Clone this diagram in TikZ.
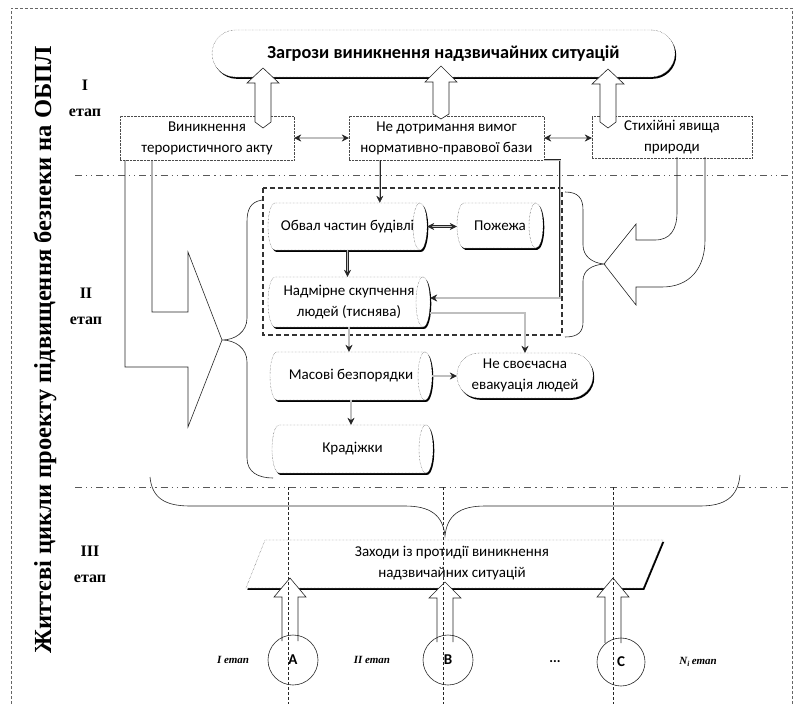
\documentclass[tikz,border=0pt]{standalone}
\usepackage{fontspec}
\setmainfont{Carlito}
\newfontfamily\serifbf{Liberation Serif}
\usetikzlibrary{arrows.meta,shadows,calc}

\newcommand\cyl[6]{%
 \pgfmathsetmacro\cyh{(#5-#3)/2}%
 \fill[black] (#2+7+1.3,#3+1.8) -- (#4-7+1.3,#3+1.8) arc[start angle=-90,end angle=90,x radius=7,y radius=\cyh] -- (#2+7+1.3,#5+1.8) arc[start angle=90,end angle=270,x radius=7,y radius=\cyh] -- cycle;
 \filldraw[fill=white,draw=black!80,densely dotted] (#2+7,#3) -- (#4-7,#3) arc[start angle=-90,end angle=90,x radius=7,y radius=\cyh] -- (#2+7,#5) arc[start angle=90,end angle=270,x radius=7,y radius=\cyh] -- cycle;
 \draw[black!80,densely dotted] (#4-7,#3) arc[start angle=-90,end angle=-270,x radius=7,y radius=\cyh];
 \node[lbl, minimum width={#4-#2}, minimum height={#5-#3}] (#1) at ({(#2+#4)/2},{(#3+#5)/2}) {#6};
}

\begin{document}
\begin{tikzpicture}[x=1pt,y=-1pt,
 lbl/.style={font=\fontsize{15}{21}\selectfont, align=center, inner sep=1pt},
 rbox/.style={lbl, draw=black!70, densely dotted, thin},
 pill/.style={lbl, draw=black!80, densely dotted, fill=white, drop shadow={shadow xshift=1.2pt, shadow yshift=-1.8pt, fill=black, opacity=1}},
 stage/.style={font=\serifbf\bfseries\fontsize{16}{26}\selectfont, align=center},
 smalllbl/.style={font=\serifbf\bfseries\itshape\fontsize{11}{13}\selectfont},
 conn/.style={draw=black!85, line width=0.4pt, double=black!25, double distance=1.3pt, -{Stealth[length=7pt,width=7pt]}},
 dconn/.style={draw=black!85, line width=0.4pt, double=black!25, double distance=1.3pt, {Stealth[length=7pt,width=7pt]}-{Stealth[length=7pt,width=7pt]}},
 hollow/.style={draw=black!85, fill=white, line width=0.6pt},
 thinline/.style={draw=black!85, line width=0.6pt},
 dashdot/.style={draw=black!65, line width=0.7pt, dash pattern=on 7pt off 4pt on 1.2pt off 4pt on 1.2pt off 4pt},
 dashbox/.style={draw=black!80, line width=1.2pt, dash pattern=on 5pt off 3pt},
 vdash/.style={draw=black!85, line width=0.6pt, dash pattern=on 3pt off 2pt},
 circ/.style={circle, draw=black!85, line width=0.6pt, inner sep=0pt, font=\bfseries\fontsize{15}{17}\selectfont}
]
\useasboundingbox (0,0) rectangle (798,704);
\fill[white] (0,0) rectangle (798,704);

% frame
\draw[black!60, densely dashed, thin] (11,704) -- (11,8) -- (792,8) -- (792,704);

% vertical title
\node[rotate=90, font=\serifbf\bfseries\fontsize{24.5}{26}\selectfont] (title) at (45,350) {Життєві цикли проекту підвищення безпеки на ОБПЛ};

% stage labels
\node[stage] (s1) at (85,98) {I\\етап};
\node[stage] (s2) at (86,306) {II\\етап};
\node[stage] (s3) at (90,564) {III\\етап};

% dash-dot separators
\draw[dashdot] (75,175) -- (790,175);
\draw[dashdot] (75,487) -- (790,487);

% top box
\node[pill, font=\bfseries\fontsize{18.3}{21}\selectfont, rounded corners=23.5pt, minimum width=463, minimum height=47] (top) at (443.5,53.5) {Загрози виникнення надзвичайних ситуацій};

% row of causes
\node[rbox, minimum width=174, minimum height=44] (b1) at (207,138) {Виникнення\\терористичного акту};
\node[rbox, minimum width=195, minimum height=44] (b2) at (446.5,138) {Не дотримання вимог\\нормативно-правової бази};
\node[rbox, minimum width=160, minimum height=42] (b3) at (672,137) {Стихійні явища\\природи};

% hollow arrows up to the top box
\draw[hollow] (255,122) -- (255,83) -- (247,83) -- (263,68) -- (279,83) -- (271,83) -- (271,122) -- (263,128) -- cycle;
\draw[hollow] (433,114) -- (433,82) -- (425,82) -- (441,66) -- (457,82) -- (449,82) -- (449,114) -- (441,119) -- cycle;
\draw[hollow] (600,122) -- (600,84) -- (592,84) -- (608,69) -- (624,84) -- (616,84) -- (616,122) -- (608,128) -- cycle;

\draw[dconn] (b1.east) -- (b2.west);
\draw[dconn] (b2.east) -- (b2.east -| b3.west);

% L-shaped arrow from b1
\draw[thinline] (152,160) -- (152,312) -- (188,312) -- (188,252) -- (222,340) -- (188,427) -- (188,367) -- (125,367) -- (125,160);
% curved arrow from b3
\draw[thinline] (677,157) -- (677,212) .. controls (677,230) and (670,240) .. (655,240) -- (636,240) -- (636,224) -- (604,264) -- (636,305) -- (636,287) -- (662,287) .. controls (690,287) and (705,268) .. (705,240) -- (705,157);

% braces
\draw[thinline] (262,200) .. controls (250,202) and (247,210) .. (247,222) -- (247,318) .. controls (247,332) and (235,340) .. (222,340) .. controls (235,340) and (247,348) .. (247,362) -- (247,458) .. controls (247,472) and (258,478) .. (273,478);
\draw[thinline] (565,192) .. controls (578,192) and (583,198) .. (583,210) -- (583,245) .. controls (583,256) and (592,263) .. (604,264) .. controls (592,265) and (583,270) .. (583,281) -- (583,322) .. controls (583,332) and (578,337) .. (565,337);
\draw[thinline] (150,477) .. controls (152,498) and (165,506) .. (190,506) -- (405,506) .. controls (430,506) and (443,515) .. (445,536) .. controls (447,515) and (460,506) .. (485,506) -- (700,506) .. controls (725,506) and (738,497) .. (740,475);

% dashed group box
\draw[dashbox] (263,188) rectangle (562,335);

% cylinders
\cyl{obv}{268}{203}{427}{250}{Обвал частин будівлі}
\cyl{poz}{457}{203}{543}{248}{Пожежа}
\cyl{nad}{268}{277}{430}{327}{Надмірне скупчення\\людей (тиснява)}
\cyl{mas}{270}{352}{432}{400}{Масові безпорядки}
\cyl{krd}{272}{425}{433}{473}{Крадіжки}

\node[pill, rounded corners=22pt, minimum width=136, minimum height=45] (nesv) at (525,375.5) {Не своєчасна\\евакуація людей};

% connectors
\draw[conn] ([xshift=31pt]b2.south west) -- ([xshift=31pt]b2.south west |- obv.north);
\draw[conn] (b2.south east) -| ([yshift=4pt,xshift=130pt]nad.east) -- ([yshift=4pt]nad.east);
\draw[dconn] (obv.east) -- (obv.east -| poz.west);
\draw[conn] (obv.south) -- (obv.south |- nad.north);
\draw[conn] (nad.south) -- (nad.south |- mas.north);
\draw[conn] ([yshift=-11pt]nad.east) -| (nesv.north);
\draw[conn] (mas.east) -- (mas.east -| nesv.west);
\draw[conn] (mas.south) -- (mas.south |- krd.north);

% stage III: measures
\fill[black] (266.3,541.8) -- (664.3,541.8) -- (644.3,589.8) -- (247.3,589.8) -- cycle;
\filldraw[fill=white, draw=black!80, densely dotted] (265,540) -- (663,540) -- (643,588) -- (246,588) -- cycle;
\node[lbl] (zah) at (452,563) {Заходи із протидії виникнення\\надзвичайних ситуацій};

\draw[hollow] (282,641) -- (282,597) -- (274,597) -- (290,578) -- (306,597) -- (298,597) -- (298,641);
\draw[hollow] (437,642) -- (437,598) -- (429,598) -- (445,582) -- (461,598) -- (453,598) -- (453,642);
\draw[hollow] (605,643) -- (605,597) -- (597,597) -- (613,578) -- (629,597) -- (621,597) -- (621,643);

\draw[vdash] (288,487) -- (288,704);
\draw[vdash] (443,487) -- (443,704);
\draw[vdash] (613,487) -- (613,704);

\node[circ, minimum size=50] (A) at (293,660) {A};
\node[circ, minimum size=50] (B) at (448,660) {B};
\node[circ, minimum size=48] (C) at (621,662) {C};

\node[smalllbl] (l1) at (233,660) {I етап};
\node[smalllbl] (l2) at (372,660) {II етап};
\node[font=\bfseries\fontsize{14}{16}\selectfont] (dots) at (555,662) {...};
\node[smalllbl] (l3) at (698,662) {N\textsubscript{i}\,етап};
\end{tikzpicture}
\end{document}
